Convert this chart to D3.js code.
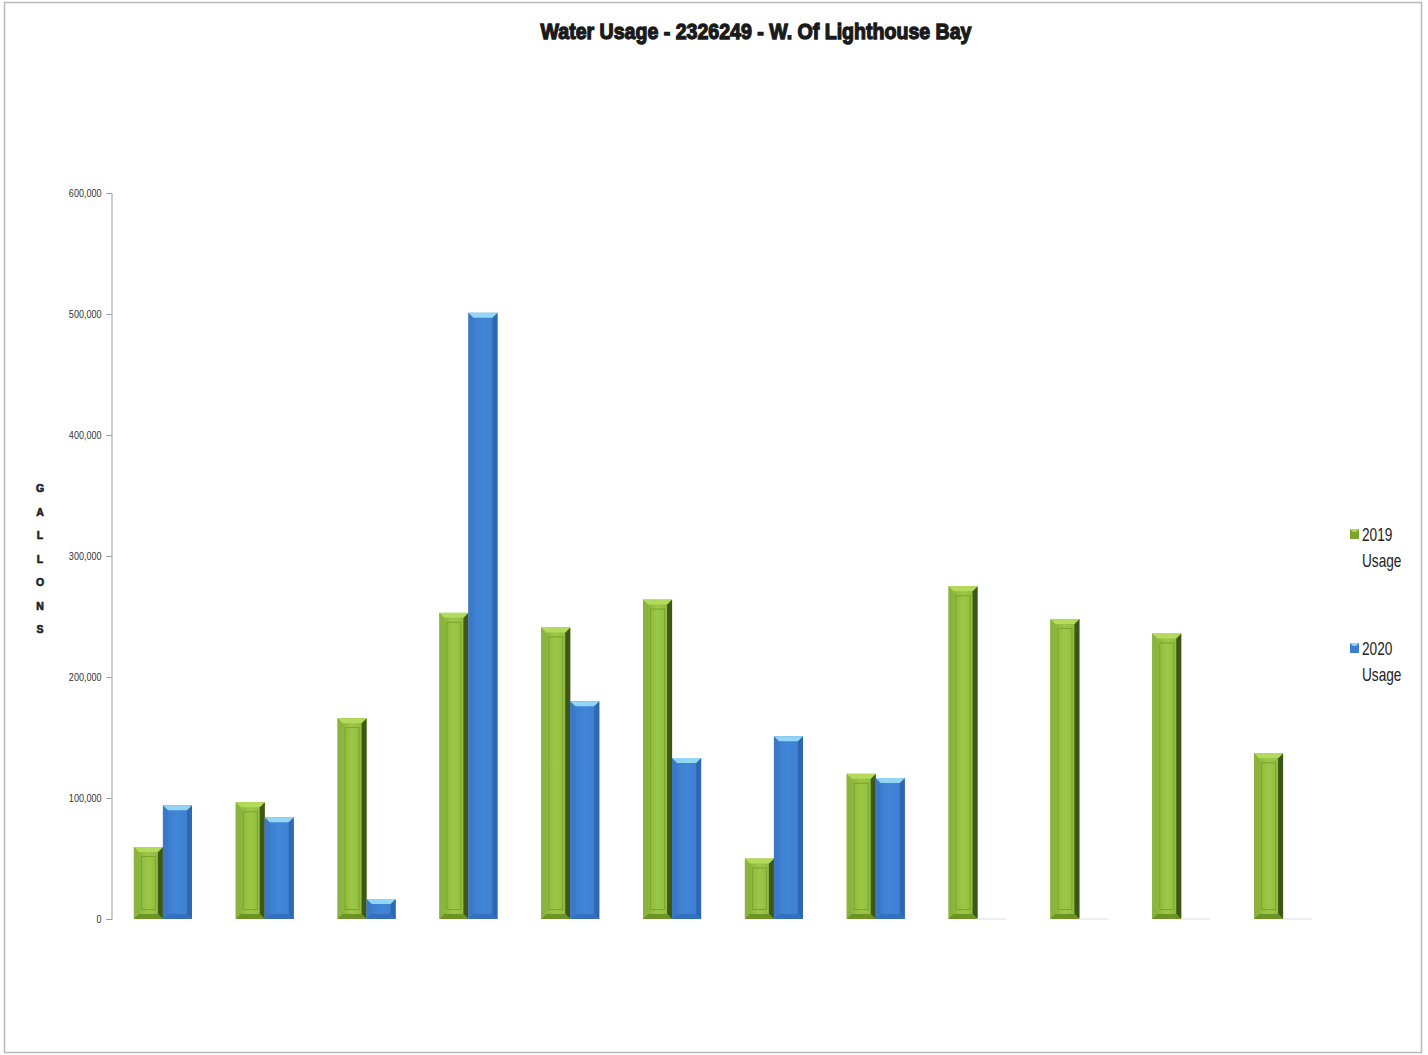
<!DOCTYPE html>
<html>
<head>
<meta charset="utf-8">
<script src="https://cdn.jsdelivr.net/npm/d3@7"></script>
<style>
  html, body { margin: 0; padding: 0; background: #fff; }
  svg { display: block; }
</style>
</head>
<body>
<svg id="chart" width="1428" height="1055"></svg>
<script>
// Monthly water usage, in gallons
const months = ["Jan","Feb","Mar","Apr","May","Jun","Jul","Aug","Sep","Oct","Nov","Dec"];
const usage2019 = [59500, 96500, 166000, 253000, 241000, 264000, 50000, 120000, 275000, 248000, 236000, 137000];
const usage2020 = [94000, 84000, 16500, 501000, 180000, 133000, 151000, 116500, null, null, null, null];
const seriesNames = ["2019 Usage", "2020 Usage"];
const yTicks = [0, 100000, 200000, 300000, 400000, 500000, 600000];
const titleText = "Water Usage - 2326249 - W. Of Lighthouse Bay";
const axisTitle = "GALLONS";

const svg = d3.select("#chart");

// chart frame
svg.append("rect")
  .attr("x", 4.5).attr("y", 2.5)
  .attr("width", 1417).attr("height", 1050)
  .attr("fill", "#fff").attr("stroke", "#b8b8b8").attr("stroke-width", 1.5);

const plot = { left: 112, right: 1334, top: 193, bottom: 919 };

const x = d3.scaleBand().domain(months).range([plot.left, plot.right]).paddingInner(0.43).paddingOuter(0.215);
const xs = d3.scaleBand().domain(seriesNames).range([0, x.bandwidth()]);
const y = d3.scaleLinear().domain([0, 600000]).range([plot.bottom, plot.top]);

// gradients
const defs = svg.append("defs");
function hGrad(id, stops) {
  const g = defs.append("linearGradient").attr("id", id).attr("x1", "0").attr("x2", "1").attr("y1", "0").attr("y2", "0");
  stops.forEach(([o, c]) => g.append("stop").attr("offset", o).attr("stop-color", c));
}
hGrad("gFace", [[0, "#84ad34"], [0.5, "#9cc847"], [1, "#8ab53a"]]);
hGrad("bFace", [[0, "#3a79c9"], [0.5, "#4286d8"], [1, "#3c7dcf"]]);
defs.append("filter").attr("id", "soft").append("feGaussianBlur").attr("stdDeviation", 0.6);

const styles = {
  "2019 Usage": { face: "url(#gFace)", top: "#b3da5a", left: "#8ab43c", right: "#3d5912", bottom: "#6d9226", inner: "#7aa22f", swatch: "#7ba52f" },
  "2020 Usage": { face: "url(#bFace)", top: "#92d5f4", left: "#3a78c8", right: "#2f67b3", bottom: "#3570bf", inner: null, swatch: "#3b7fd0" }
};

// y axis
const yAxis = d3.axisLeft(y).tickValues(yTicks).tickSize(5).tickPadding(5)
  .tickFormat(d => d === 0 ? "0" : d3.format(",")(d));
const ga = svg.append("g").attr("transform", `translate(${plot.left - 0.5},0)`).call(yAxis);
ga.select(".domain").attr("stroke", "#9a9a9a");
ga.selectAll(".tick line").attr("stroke", "#9a9a9a");
ga.selectAll(".tick text")
  .attr("fill", "#333")
  .style("font-family", "'Liberation Sans', sans-serif")
  .style("font-size", "10.5px")
  .each(function () {
    const len = this.getComputedTextLength();
    d3.select(this).attr("textLength", len * 0.86).attr("lengthAdjust", "spacingAndGlyphs");
  });

// bars with bevelled edges
const rows = months.map((m, i) => ({ month: m, values: [usage2019[i], usage2020[i]] }));
const groups = svg.append("g").selectAll("g").data(rows).join("g")
  .attr("transform", d => `translate(${x(d.month)},0)`);

groups.each(function (d) {
  const g = d3.select(this);
  d.values.forEach((v, si) => {
    const name = seriesNames[si];
    const st = styles[name];
    const x0 = xs(name), x1 = x0 + xs.bandwidth();
    const yb = y(0);
    if (v == null) {
      // empty month: faint base shadow only
      g.append("rect").attr("x", x0).attr("y", yb - 1).attr("width", xs.bandwidth()).attr("height", 2)
        .attr("fill", "#eeeeee");
      return;
    }
    const yt = y(v);
    const b = Math.min(5, (yb - yt) / 2);
    const bar = g.append("g").attr("filter", "url(#soft)");
    bar.append("rect").attr("x", x0).attr("y", yt).attr("width", x1 - x0).attr("height", yb - yt).attr("fill", st.face);
    const poly = (pts, fill) => bar.append("polygon").attr("points", pts.map(p => p.join(",")).join(" ")).attr("fill", fill);
    poly([[x0, yt], [x0 + b, yt + b], [x0 + b, yb - b], [x0, yb]], st.left);
    poly([[x1, yt], [x1 - b, yt + b], [x1 - b, yb - b], [x1, yb]], st.right);
    poly([[x0, yb], [x0 + b, yb - b], [x1 - b, yb - b], [x1, yb]], st.bottom);
    poly([[x0, yt], [x1, yt], [x1 - b, yt + b], [x0 + b, yt + b]], st.top);
    if (st.inner && yb - yt > 20) {
      bar.append("rect").attr("x", x0 + b + 2.5).attr("y", yt + b + 4.5)
        .attr("width", x1 - x0 - 2 * b - 5).attr("height", yb - yt - 2 * b - 9)
        .attr("fill", "none").attr("stroke", st.inner).attr("stroke-width", 1);
    }
  });
});

// title
svg.append("text")
  .attr("x", 756).attr("y", 39)
  .attr("text-anchor", "middle")
  .attr("textLength", 431).attr("lengthAdjust", "spacingAndGlyphs")
  .style("font-family", "'Liberation Sans', Arial, sans-serif")
  .style("font-weight", "bold")
  .style("font-size", "22px")
  .attr("fill", "#1a1a1a").attr("stroke", "#1a1a1a").attr("stroke-width", 1.3)
  .text(titleText);

// vertical axis title, stacked letters
svg.append("g").selectAll("text").data(axisTitle.split("")).join("text")
  .attr("x", 40).attr("y", (d, i) => 492 + i * 23.5)
  .attr("text-anchor", "middle")
  .style("font-family", "'Liberation Sans', Arial, sans-serif")
  .style("font-weight", "bold").style("font-size", "10.5px")
  .attr("fill", "#222").attr("stroke", "#222").attr("stroke-width", 0.6)
  .text(d => d);

// legend
const legend = svg.append("g").selectAll("g").data(seriesNames).join("g")
  .attr("transform", (d, i) => `translate(1350,${529 + i * 114})`);
legend.append("rect").attr("width", 9).attr("height", 10).attr("fill", d => styles[d].swatch);
legend.append("polygon").attr("points", "0,0 9,0 6,3 3,3").attr("fill", d => styles[d].top);
legend.append("g").attr("transform", "translate(12,0) scale(0.78,1)")
  .append("text")
  .style("font-family", "'Liberation Sans', sans-serif")
  .style("font-size", "17.5px").attr("fill", "#222")
  .selectAll("tspan").data(d => d.split(" ")).join("tspan")
  .attr("x", 0).attr("y", (d, i) => 12 + i * 26)
  .text(d => d);
</script>
</body>
</html>
